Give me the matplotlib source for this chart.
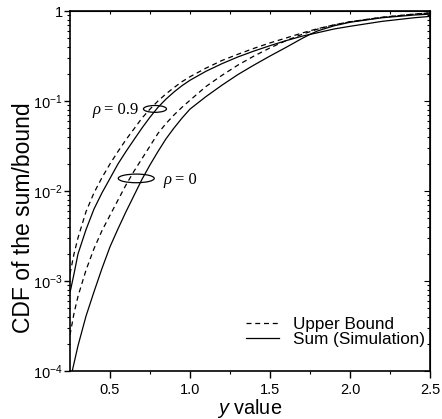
import matplotlib
matplotlib.use("Agg")
import matplotlib.pyplot as plt
import numpy as np
from matplotlib.patches import Ellipse
from matplotlib.lines import Line2D
from matplotlib.ticker import FixedLocator, LogLocator, FuncFormatter, NullFormatter

plt.rcParams['font.family'] = ['Liberation Sans', 'DejaVu Sans']
plt.rcParams['mathtext.fontset'] = 'custom'
plt.rcParams['mathtext.rm'] = 'Liberation Sans'
plt.rcParams['mathtext.it'] = 'Liberation Serif:italic'
plt.rcParams['mathtext.sf'] = 'Liberation Sans:italic'

# Data
x_common = [0.25, 0.275, 0.3, 0.35, 0.4, 0.45, 0.5, 0.55, 0.6, 0.65, 0.7, 0.75, 0.8, 0.85, 0.9,
            0.95, 1.0, 1.1, 1.2, 1.3, 1.4, 1.5, 1.6, 1.7, 1.8, 1.9, 2.0, 2.2, 2.4, 2.5]

y_r9_bound = [1.20e-3, 2.0e-3, 3.02e-3, 5.89e-3, 9.55e-3, 0.0141, 0.0200, 0.0275, 0.0372, 0.0490,
              0.0646, 0.0813, 0.100, 0.120, 0.141, 0.164, 0.186, 0.232, 0.282, 0.331, 0.385, 0.442,
              0.501, 0.569, 0.638, 0.700, 0.759, 0.851, 0.923, 0.951]

y_r9_sum = [7.41e-4, 1.20e-3, 2.0e-3, 3.72e-3, 6.31e-3, 9.55e-3, 0.0138, 0.0200, 0.0275, 0.0372,
            0.0501, 0.0661, 0.0851, 0.105, 0.126, 0.148, 0.170, 0.214, 0.260, 0.309, 0.359, 0.412,
            0.468, 0.525, 0.575, 0.631, 0.676, 0.767, 0.841, 0.871]

y_r0_bound = [2.51e-4, 4.37e-4, 6.76e-4, 1.32e-3, 2.29e-3, 3.63e-3, 5.37e-3, 7.94e-3, 0.0117, 0.0166,
              0.0229, 0.0316, 0.0437, 0.0562, 0.0700, 0.0851, 0.102, 0.145, 0.193, 0.251, 0.316,
              0.389, 0.468, 0.550, 0.631, 0.700, 0.759, 0.851, 0.923, 0.951]

x_r0_sum = [0.264, 0.3, 0.35, 0.4, 0.45, 0.5, 0.55, 0.6, 0.65, 0.7, 0.75, 0.8, 0.85, 0.9, 0.95, 1.0,
            1.1, 1.2, 1.3, 1.4, 1.5, 1.6, 1.7, 1.75, 1.8, 1.9, 2.0, 2.2, 2.4, 2.5]
y_r0_sum = [1.00e-4, 1.91e-4, 4.07e-4, 7.59e-4, 1.38e-3, 2.40e-3, 3.80e-3, 5.89e-3, 8.91e-3, 0.0135,
            0.0195, 0.0275, 0.0380, 0.0501, 0.0646, 0.0813, 0.112, 0.150, 0.197, 0.251, 0.316,
            0.394, 0.495, 0.550, 0.603, 0.684, 0.750, 0.841, 0.902, 0.923]

x_ticks = [0.5, 1.0, 1.5, 2.0, 2.5]
x_tick_labels = ['0.5', '1.0', '1.5', '2.0', '2.5']
x_minor_ticks = [0.75, 1.25, 1.75, 2.25]
y_ticks = [1e-4, 1e-3, 1e-2, 1e-1, 1]
legend_labels = ['Upper Bound', 'Sum (Simulation)']
rho_labels = ['= 0.9', '= 0']

fig = plt.figure(figsize=(4.42, 4.19), dpi=100)
ax = fig.add_axes([70/442, 1 - 371/419, 360/442, 360/419])

lw = 0.9
dash = (0, (4, 3))
ax.plot(x_common, y_r9_bound, color='black', lw=lw, linestyle=dash)
ax.plot(x_common, y_r0_bound, color='black', lw=lw, linestyle=dash)
ax.plot(x_common, y_r9_sum, color='black', lw=lw)
ax.plot(x_r0_sum, y_r0_sum, color='black', lw=lw)

ax.set_yscale('log')
ax.set_xlim(0.25, 2.5)
ax.set_ylim(1e-4, 1)

ax.xaxis.set_major_locator(FixedLocator(x_ticks))
ax.set_xticklabels(x_tick_labels)
ax.xaxis.set_minor_locator(FixedLocator(x_minor_ticks))
ax.yaxis.set_major_locator(FixedLocator(y_ticks))
ax.yaxis.set_minor_locator(LogLocator(base=10, subs=np.arange(2, 10), numticks=20))
ax.yaxis.set_minor_formatter(NullFormatter())

def yfmt(v, pos):
    if abs(v - 1) < 1e-9:
        return '1'
    e = int(round(np.log10(v)))
    return r'$\mathregular{10^{%d}}$' % e
ax.yaxis.set_major_formatter(FuncFormatter(yfmt))

ax.tick_params(axis='x', which='major', direction='out', length=5, width=1, labelsize=10.5,
               top=False)
ax.tick_params(axis='y', which='major', direction='out', length=4, width=1, labelsize=10.5,
               right=False, pad=1.2)
ax.tick_params(axis='both', which='minor', direction='out', length=2.5, width=0.8,
               top=False, right=False)
for s in ax.spines.values():
    s.set_linewidth(1.2)

# inward ticks on top and right
secx = ax.secondary_xaxis('top')
secx.xaxis.set_major_locator(FixedLocator(x_ticks + x_minor_ticks))
secx.tick_params(direction='in', length=2, width=0.8, labeltop=False)
secx.xaxis.set_major_formatter(NullFormatter())
secy = ax.secondary_yaxis('right')
secy.yaxis.set_major_locator(FixedLocator(y_ticks))
secy.yaxis.set_minor_locator(LogLocator(base=10, subs=np.arange(2, 10), numticks=20))
secy.tick_params(which='major', direction='in', length=4, width=0.8, labelright=False)
secy.tick_params(which='minor', direction='in', length=2.5, width=0.8, labelright=False)
secy.yaxis.set_major_formatter(NullFormatter())
secy.yaxis.set_minor_formatter(NullFormatter())

ax.set_xlabel(r'$\mathsf{y}$ value', fontsize=14.3, labelpad=0)
ax.set_ylabel('CDF of the sum/bound', fontsize=16.5)
ax.yaxis.set_label_coords(-0.098, 0.425)

# annotations
ax.add_patch(Ellipse((0.236, 0.728), 0.064, 0.019, transform=ax.transAxes,
                     fill=False, edgecolor='black', lw=0.9))
ax.add_patch(Ellipse((0.184, 0.535), 0.10, 0.024, transform=ax.transAxes,
                     fill=False, edgecolor='black', lw=0.9))
serif = ['Liberation Serif', 'DejaVu Serif']
for (px, py), lab in zip([(92, 110), (163, 180)], rho_labels):
    pos = ((px - 70) / 360, (371 - py) / 360)
    ax.text(pos[0], pos[1], '\u03c1', transform=ax.transAxes, fontsize=12,
            family=serif, style='italic', va='center', ha='left')
    ax.annotate(lab, xy=pos, xycoords='axes fraction', xytext=(8.5, 0),
                textcoords='offset points', fontsize=12, family=serif,
                va='center', ha='left')

# legend
handles = [Line2D([], [], color='black', lw=lw, linestyle=dash),
           Line2D([], [], color='black', lw=lw)]
ax.legend(handles, legend_labels, loc='lower right',
          bbox_to_anchor=(1.008, 0.045), frameon=False, fontsize=12.3, handlelength=1.9,
          handletextpad=0.85, labelspacing=0.0, borderaxespad=0.05)

fig.savefig('out.png', dpi=100)
